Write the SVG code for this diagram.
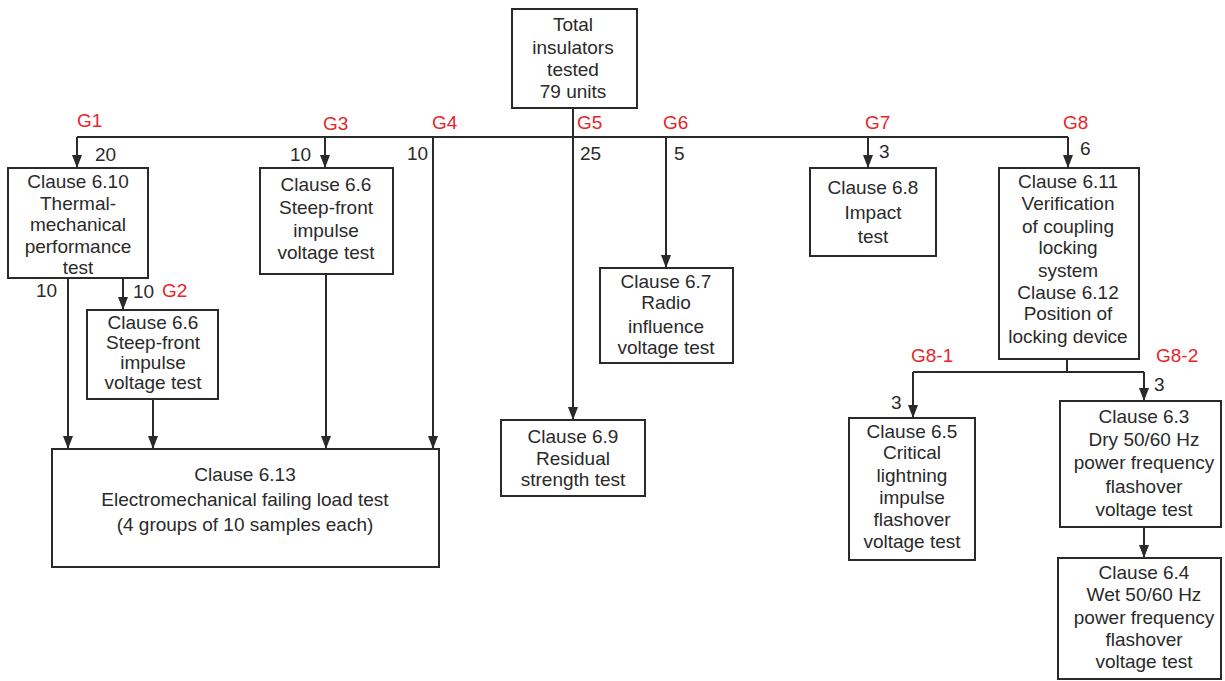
<svg xmlns="http://www.w3.org/2000/svg" width="1225" height="681" viewBox="0 0 1225 681">
<style>
.box{fill:#fff;stroke:#2a2a2a;stroke-width:2}
.t{font-family:"Liberation Sans",Arial,sans-serif;font-size:19px;fill:#2a2a2a;text-anchor:middle}
.n{font-family:"Liberation Sans",Arial,sans-serif;font-size:19px;fill:#2a2a2a}
.g{font-family:"Liberation Sans",Arial,sans-serif;font-size:19px;fill:#e8242b}
.c{fill:none;stroke:#2a2a2a;stroke-width:2}
</style>
<defs>
<marker id="ah" viewBox="0 0 13 10" refX="13" refY="5" markerWidth="13" markerHeight="10" markerUnits="userSpaceOnUse" orient="auto">
<path d="M0,0 L13,5 L0,10 z" fill="#2a2a2a"/>
</marker>
</defs>
<rect width="1225" height="681" fill="#fff"/>
<g id="connectors">
<line class="c" x1="573" y1="108" x2="573" y2="137"/>
<line class="c" x1="77" y1="137" x2="1068" y2="137"/>
<line class="c" x1="77" y1="137" x2="77" y2="168" marker-end="url(#ah)"/>
<line class="c" x1="325" y1="137" x2="325" y2="168" marker-end="url(#ah)"/>
<line class="c" x1="433" y1="137" x2="433" y2="449" marker-end="url(#ah)"/>
<line class="c" x1="573" y1="137" x2="573" y2="420" marker-end="url(#ah)"/>
<line class="c" x1="666" y1="137" x2="666" y2="268" marker-end="url(#ah)"/>
<line class="c" x1="868" y1="137" x2="868" y2="168" marker-end="url(#ah)"/>
<line class="c" x1="1068" y1="137" x2="1068" y2="168" marker-end="url(#ah)"/>
<line class="c" x1="68" y1="278" x2="68" y2="449" marker-end="url(#ah)"/>
<line class="c" x1="123" y1="278" x2="123" y2="310" marker-end="url(#ah)"/>
<line class="c" x1="153" y1="399" x2="153" y2="449" marker-end="url(#ah)"/>
<line class="c" x1="326" y1="274" x2="326" y2="449" marker-end="url(#ah)"/>
<line class="c" x1="1067" y1="359" x2="1067" y2="372"/>
<line class="c" x1="913" y1="372" x2="1144" y2="372"/>
<line class="c" x1="913" y1="372" x2="913" y2="418" marker-end="url(#ah)"/>
<line class="c" x1="1144" y1="372" x2="1144" y2="401" marker-end="url(#ah)"/>
<line class="c" x1="1144" y1="527" x2="1144" y2="558" marker-end="url(#ah)"/>
</g>
<g id="labels">
<text class="g" x="77" y="127">G1</text>
<text class="n" x="95" y="161">20</text>
<text class="n" x="36" y="297">10</text>
<text class="n" x="133" y="298">10</text>
<text class="g" x="162" y="297">G2</text>
<text class="g" x="323" y="130">G3</text>
<text class="n" x="290" y="161">10</text>
<text class="g" x="432" y="129">G4</text>
<text class="n" x="407" y="160">10</text>
<text class="g" x="577" y="129">G5</text>
<text class="n" x="580" y="160">25</text>
<text class="g" x="663" y="129">G6</text>
<text class="n" x="674" y="160">5</text>
<text class="g" x="865" y="129">G7</text>
<text class="n" x="879" y="158">3</text>
<text class="g" x="1063" y="129">G8</text>
<text class="n" x="1080" y="155">6</text>
<text class="g" x="911" y="362">G8-1</text>
<text class="g" x="1156" y="362">G8-2</text>
<text class="n" x="891" y="409">3</text>
<text class="n" x="1154" y="391">3</text>
</g>
<g id="n-total">
<rect class="box" x="512" y="9" width="125" height="99"/>
<text class="t" x="573" y="31">Total</text>
<text class="t" x="573" y="54">insulators</text>
<text class="t" x="573" y="76">tested</text>
<text class="t" x="573" y="98">79 units</text>
</g>
<g id="n-610">
<rect class="box" x="8" y="168" width="140" height="110"/>
<text class="t" x="78" y="188">Clause 6.10</text>
<text class="t" x="78" y="210">Thermal-</text>
<text class="t" x="78" y="231">mechanical</text>
<text class="t" x="78" y="253">performance</text>
<text class="t" x="78" y="274">test</text>
</g>
<g id="n-66a">
<rect class="box" x="87" y="310" width="131" height="89"/>
<text class="t" x="153" y="329">Clause 6.6</text>
<text class="t" x="153" y="349">Steep-front</text>
<text class="t" x="153" y="369">impulse</text>
<text class="t" x="153" y="389">voltage test</text>
</g>
<g id="n-66b">
<rect class="box" x="260" y="168" width="133" height="106"/>
<text class="t" x="326" y="191">Clause 6.6</text>
<text class="t" x="326" y="214">Steep-front</text>
<text class="t" x="326" y="237">impulse</text>
<text class="t" x="326" y="259">voltage test</text>
</g>
<g id="n-613">
<rect class="box" x="52" y="449" width="387" height="118"/>
<text class="t" x="245" y="481">Clause 6.13</text>
<text class="t" x="245" y="506">Electromechanical failing load test</text>
<text class="t" x="245" y="531">(4 groups of 10 samples each)</text>
</g>
<g id="n-69">
<rect class="box" x="501" y="420" width="144" height="76"/>
<text class="t" x="573" y="443">Clause 6.9</text>
<text class="t" x="573" y="465">Residual</text>
<text class="t" x="573" y="486">strength test</text>
</g>
<g id="n-67">
<rect class="box" x="600" y="268" width="133" height="95"/>
<text class="t" x="666" y="288">Clause 6.7</text>
<text class="t" x="666" y="309">Radio</text>
<text class="t" x="666" y="333">influence</text>
<text class="t" x="666" y="354">voltage test</text>
</g>
<g id="n-68">
<rect class="box" x="810" y="168" width="126" height="88"/>
<text class="t" x="873" y="194">Clause 6.8</text>
<text class="t" x="873" y="219">Impact</text>
<text class="t" x="873" y="243">test</text>
</g>
<g id="n-611">
<rect class="box" x="999" y="168" width="140" height="191"/>
<text class="t" x="1068" y="188">Clause 6.11</text>
<text class="t" x="1068" y="210">Verification</text>
<text class="t" x="1068" y="233">of coupling</text>
<text class="t" x="1068" y="254">locking</text>
<text class="t" x="1068" y="277">system</text>
<text class="t" x="1068" y="299">Clause 6.12</text>
<text class="t" x="1068" y="320">Position of</text>
<text class="t" x="1068" y="343">locking device</text>
</g>
<g id="n-65">
<rect class="box" x="849" y="418" width="126" height="142"/>
<text class="t" x="912" y="438">Clause 6.5</text>
<text class="t" x="912" y="459">Critical</text>
<text class="t" x="912" y="482">lightning</text>
<text class="t" x="912" y="504">impulse</text>
<text class="t" x="912" y="526">flashover</text>
<text class="t" x="912" y="548">voltage test</text>
</g>
<g id="n-63">
<rect class="box" x="1060" y="401" width="161" height="126"/>
<text class="t" x="1144" y="423">Clause 6.3</text>
<text class="t" x="1144" y="446">Dry 50/60 Hz</text>
<text class="t" x="1144" y="469">power frequency</text>
<text class="t" x="1144" y="493">flashover</text>
<text class="t" x="1144" y="516">voltage test</text>
</g>
<g id="n-64">
<rect class="box" x="1058" y="558" width="163" height="121"/>
<text class="t" x="1144" y="579">Clause 6.4</text>
<text class="t" x="1144" y="601">Wet 50/60 Hz</text>
<text class="t" x="1144" y="624">power frequency</text>
<text class="t" x="1144" y="646">flashover</text>
<text class="t" x="1144" y="668">voltage test</text>
</g>
</svg>
